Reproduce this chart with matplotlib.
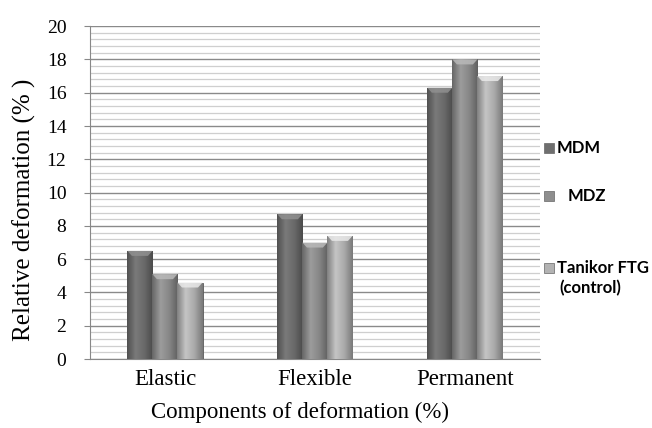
import numpy as np
import matplotlib.pyplot as plt
from matplotlib.patches import Rectangle, Polygon
from matplotlib.colors import LinearSegmentedColormap, to_rgb

# -------------------- DATA --------------------
categories = ["Elastic", "Flexible", "Permanent"]
series_names = ["MDM", " MDZ", "Tanikor FTG"]
mdm = [6.5, 8.7, 16.3]
mdz = [5.1, 7.0, 18.0]
tanikor = [4.6, 7.4, 17.0]
yticks = [0, 2, 4, 6, 8, 10, 12, 14, 16, 18, 20]
# ----------------------------------------------

base_colors = ["#6f6f6f", "#8e8e8e", "#b3b3b3"]
SERIF = "Liberation Serif"

fig = plt.figure(figsize=(6.52, 4.28), dpi=100)
ax = fig.add_axes([0.138, 0.161, 0.690, 0.778])

x = np.arange(len(categories))
w = 0.167
values = [mdm, mdz, tanikor]


def shaded(ax, bars, color):
    # horizontal gradient + light bevelled cap, like the old Excel 3D bars
    c = np.array(to_rgb(color))
    cmap = LinearSegmentedColormap.from_list(
        "g", [c * 0.72, np.clip(c * 1.1, 0, 1), c * 0.95, c * 0.68])
    grad = np.linspace(0, 1, 64).reshape(1, -1)
    for b in bars:
        x0, y0, bw, bh = b.get_x(), b.get_y(), b.get_width(), b.get_height()
        im = ax.imshow(grad, cmap=cmap, aspect="auto", zorder=3,
                       extent=[x0, x0 + bw, y0, y0 + bh])
        im.set_clip_path(b)
        cap = 0.3
        inset = bw * 0.18
        ax.add_patch(Polygon([(x0, y0 + bh), (x0 + bw, y0 + bh),
                              (x0 + bw - inset, y0 + bh - cap),
                              (x0 + inset, y0 + bh - cap)],
                             closed=True, facecolor=np.clip(c * 1.3, 0, 1),
                             edgecolor="none", zorder=4, alpha=0.85))


for i, (vals, col) in enumerate(zip(values, base_colors)):
    bars = ax.bar(x + (i - 1) * w, vals, w, color=col,
                  edgecolor="#555555", linewidth=0.6, zorder=2)
    shaded(ax, bars, col)

ax.set_xlim(-0.5, 2.5)
ax.set_ylim(0, 20)
ax.set_yticks(yticks)
ax.set_yticks(np.arange(0, 20.01, 0.4), minor=True)
ax.grid(axis="y", which="minor", color="#cfcfcf", linewidth=0.9, zorder=0)
ax.grid(axis="y", which="major", color="#8a8a8a", linewidth=1.0, zorder=0)
ax.set_axisbelow(True)

ax.set_xticks(x)
ax.set_xticklabels(categories, fontfamily=SERIF, fontsize=16.5)
ax.tick_params(axis="x", length=0, pad=7)
ax.tick_params(axis="y", which="major", length=4, color="#888888",
               labelsize=14, pad=13)
ax.tick_params(axis="y", which="minor", length=0)
for lab in ax.get_yticklabels():
    lab.set_fontfamily(SERIF)

for s in ["top", "right"]:
    ax.spines[s].set_visible(False)
ax.spines["left"].set_color("#888888")
ax.spines["bottom"].set_color("#888888")

fig.text(24 / 652, 1 - 210 / 428, "Relative deformation (% )", rotation=90,
         fontfamily=SERIF, fontsize=18, ha="center", va="center")
fig.text(300 / 652, 1 - 412 / 428, "Components of deformation (%)",
         fontfamily=SERIF, fontsize=16.5, ha="center", va="center")

# legend on the right, drawn by hand to keep the uneven spacing
leg_y = [1 - 148 / 428, 1 - 196 / 428, 1 - 268 / 428]
leg_x = [557, 568, 557]
for yy, xx, txt, col in zip(leg_y, leg_x, series_names, base_colors):
    fig.patches.append(Rectangle((544 / 652, yy - 0.012), 10 / 652, 0.024,
                                 transform=fig.transFigure, facecolor=col,
                                 edgecolor="#666666", linewidth=0.5))
    fig.text(xx / 652, yy, txt.strip(), fontfamily="Lato", fontweight="bold",
             fontsize=12, va="center", ha="left")
fig.text(559 / 652, 1 - 288 / 428, "(control)", fontfamily="Lato",
         fontweight="bold", fontsize=12, va="center", ha="left")

fig.savefig("out.png", dpi=100)
